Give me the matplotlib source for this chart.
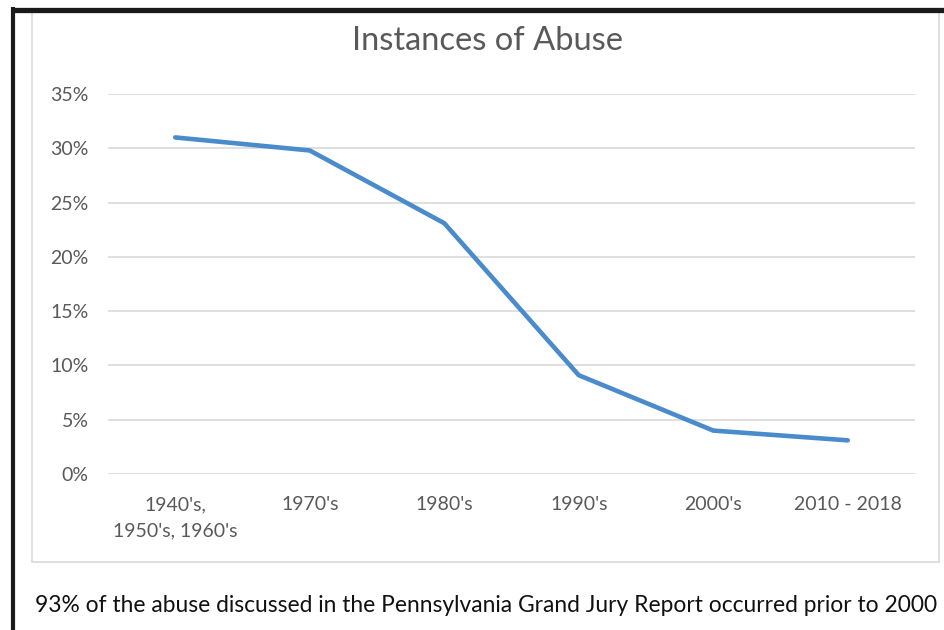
import matplotlib
matplotlib.use("Agg")
import matplotlib.pyplot as plt
from matplotlib.patches import Rectangle
from matplotlib.lines import Line2D
from matplotlib.ticker import FuncFormatter

categories = ["1940's,\n1950's, 1960's", "1970's", "1980's", "1990's", "2000's", "2010 - 2018"]
values = [31.0, 29.8, 23.1, 9.1, 4.0, 3.1]
y_ticks = [0, 5, 10, 15, 20, 25, 30, 35]
title = "Instances of Abuse"
caption = "93% of the abuse discussed in the Pennsylvania Grand Jury Report occurred prior to 2000"

W, H = 944, 630
fig = plt.figure(figsize=(W / 100, H / 100), dpi=100)
fig.patch.set_facecolor("white")

# chart panel border
fig.patches.append(Rectangle((32 / W, 1 - 562 / H), (939 - 32) / W, (562 - 12) / H,
                             transform=fig.transFigure, facecolor="none",
                             edgecolor="#d9d9d9", lw=1.2, zorder=-5))
# outer black frame (top and left)
fig.lines.append(Line2D([11 / W, 1], [1 - 9.5 / H, 1 - 9.5 / H], transform=fig.transFigure,
                        color="#1a1a1a", lw=3.8, solid_capstyle="butt"))
fig.lines.append(Line2D([13 / W, 13 / W], [1 - 7 / H, 0], transform=fig.transFigure,
                        color="#1a1a1a", lw=3.0, solid_capstyle="butt"))

ax = fig.add_axes([108 / W, 1 - 474 / H, (915 - 108) / W, (474 - 94) / H])
ax.set_facecolor("none")
ax.set_zorder(2)
x = list(range(len(categories)))
ax.plot(x, values, color="#4a8bcb", lw=3.3, solid_capstyle="round", clip_on=False, zorder=3)
ax.set_xlim(-0.5, len(categories) - 0.5)
ax.set_ylim(0, 35)
ax.set_yticks(y_ticks)
ax.yaxis.set_major_formatter(FuncFormatter(lambda v, p: f"{int(v)}%"))
ax.set_xticks(x)
ax.set_xticklabels(categories, fontfamily="Lato", fontsize=14, color="#595959", linespacing=1.65)
for lab in ax.get_yticklabels():
    lab.set_fontfamily("Lato")
    lab.set_fontsize(14)
    lab.set_color("#595959")
ax.tick_params(axis="y", length=0, pad=14)
ax.tick_params(axis="x", length=0, pad=16)
ax.grid(axis="y", color="#d9d9d9", lw=1.2)
ax.set_axisbelow(True)
for s in ax.spines.values():
    s.set_visible(False)

fig.text(487 / W, 1 - 41 / H, title, ha="center", va="center", fontfamily="Lato",
         fontsize=23.5, color="#595959")

cap = fig.text(486 / W, 1 - 606 / H, caption, ha="center", va="center",
               fontfamily="Lato", fontsize=17, color="#111111")
fig.canvas.draw()
r = fig.canvas.get_renderer()
w = cap.get_window_extent(r).width
cap.set_fontsize(17 * 898 / w)

fig.savefig("out.png", dpi=100)
